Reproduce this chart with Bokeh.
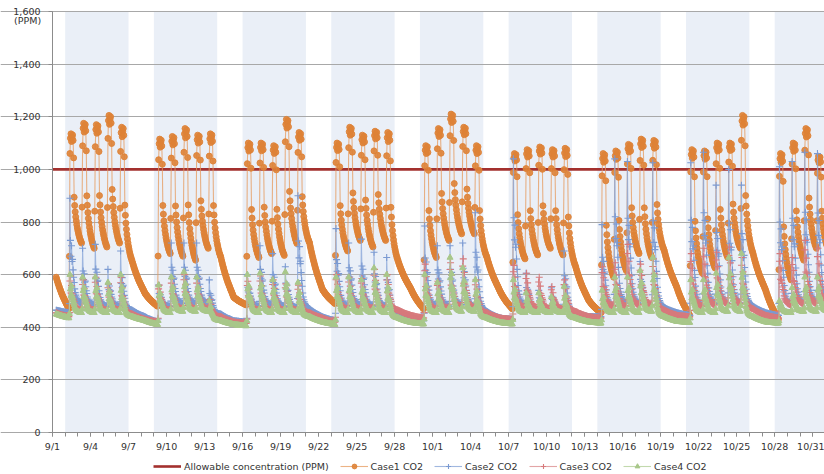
import pandas as pd
from bokeh.plotting import figure
from bokeh.models import (Range1d, FixedTicker, NumeralTickFormatter, BoxAnnotation,
                          Legend, LegendItem, Label)
from bokeh.embed import file_html
from bokeh.resources import INLINE

# ---------------- data ----------------
START = "2013-09-01"
N_DAYS = 61
TICK_LABELS = ["9/1", "9/4", "9/7", "9/10", "9/13", "9/16", "9/19", "9/22", "9/25", "9/28",
               "10/1", "10/4", "10/7", "10/10", "10/13", "10/16", "10/19", "10/22", "10/25",
               "10/28", "10/31"]
ALLOWABLE = 1000

# value at 07:00 of every day (9/1 ... 11/1)
CASE1_MORNING = [590,
                 470, 720, 700, 705, 720, 650, 530,
                 480, 680, 670, 655, 700, 665, 515,
                 485, 665, 680, 673, 718, 720, 545,
                 490, 690, 730, 705, 730, 650, 545,
                 470, 665, 730, 755, 755, 665, 540,
                 470, 660, 675, 700, 675, 630, 505,
                 455, 590, 615, 680, 665, 690, 550,
                 445, 605, 625, 665, 700, 680, 540,
                 430, 580, 655, 700, 690]
CASE2_MORNING = [465,
                 455, 490, 485, 480, 480, 465, 440,
                 420, 480, 490, 490, 490, 450, 425,
                 420, 480, 485, 480, 475, 470, 440,
                 425, 480, 485, 480, 480, 455, 435,
                 425, 480, 480, 485, 480, 460, 435,
                 430, 480, 470, 470, 470, 455, 440,
                 440, 480, 490, 490, 480, 475, 455,
                 445, 480, 490, 490, 490, 480, 455,
                 445, 485, 490, 495, 495]
CASE3_MORNING = [455,
                 440, 465, 465, 465, 465, 450, 430,
                 420, 465, 470, 470, 470, 440, 420,
                 415, 465, 465, 465, 465, 455, 435,
                 420, 470, 470, 470, 470, 465, 445,
                 435, 470, 470, 475, 475, 455, 435,
                 430, 475, 475, 470, 470, 460, 440,
                 435, 480, 480, 485, 485, 465, 445,
                 440, 480, 485, 490, 490, 470, 445,
                 435, 485, 490, 490, 490]
CASE4_MORNING = [450,
                 435, 455, 455, 455, 455, 440, 425,
                 410, 455, 460, 460, 460, 425, 410,
                 405, 455, 455, 455, 455, 440, 420,
                 410, 455, 455, 455, 455, 435, 418,
                 412, 455, 455, 460, 460, 435, 418,
                 412, 455, 455, 455, 455, 435, 420,
                 415, 455, 455, 455, 460, 440, 422,
                 418, 455, 455, 460, 460, 440, 420,
                 415, 455, 460, 460, 460]

# daily maximum of every working day
CASE1_PEAK = [1135, 1175, 1170, 1205, 1160,
              1115, 1125, 1155, 1130, 1135,
              1100, 1100, 1090, 1190, 1140,
              1100, 1160, 1130, 1145, 1140,
              1090, 1155, 1210, 1160, 1090,
              1060, 1075, 1085, 1075, 1080,
              1060, 1070, 1095, 1115, 1110,
              1075, 1070, 1100, 1100, 1205,
              1060, 1100, 1155, 1050]
CASE2_PEAK = [890, 700, 715, 620, 690,
              560, 720, 720, 720, 580,
              600, 710, 680, 630, 900,
              775, 720, 735, 685, 665,
              785, 710, 710, 720, 835,
              1040, 605, 540, 550, 690,
              790, 1040, 1030, 650, 1025,
              1025, 1065, 940, 1000, 940,
              1010, 1030, 1065, 1060]
CASE3_PEAK = [595, 580, 590, 565, 590,
              560, 585, 600, 585, 505,
              575, 595, 580, 565, 560,
              600, 590, 585, 620, 600,
              640, 575, 645, 660, 580,
              635, 605, 590, 555, 580,
              630, 645, 715, 640, 660,
              680, 700, 685, 705, 665,
              680, 665, 730, 700]
CASE4_PEAK = [600, 590, 590, 570, 600,
              560, 590, 610, 590, 500,
              600, 605, 580, 610, 570,
              590, 590, 580, 625, 600,
              600, 570, 665, 625, 580,
              580, 530, 530, 515, 555,
              540, 590, 590, 615, 665,
              580, 580, 605, 665, 680,
              500, 550, 590, 590]

# estimated hourly shapes (fractions) of a working day 08:00-17:00
CASE1_OCC = [0.3, 0.82, 0.96, 1.0, 0.93, 0.97, 0.99, 0.94, 0.78, 0.42]
CASE2_OCC = [0.08, 1.0, 0.6, 0.45, 0.55, 0.4, 0.42, 0.32, 0.25, 0.2]
CASE3_OCC = [0.1, 0.85, 1.0, 0.5, 0.72, 0.48, 0.42, 0.35, 0.3, 0.25]
CASE4_OCC = [0.1, 1.0, 0.62, 0.45, 0.7, 0.45, 0.4, 0.33, 0.28, 0.22]
# night decay 18:00 -> 07:00 (fraction of the evening excess left)
CASE1_NIGHT = [0.82, 0.68, 0.57, 0.48, 0.40, 0.33, 0.27, 0.22, 0.17, 0.13, 0.09, 0.06, 0.03, 0.0]
OTHER_NIGHT = [0.7, 0.52, 0.4, 0.31, 0.24, 0.19, 0.15, 0.11, 0.08, 0.06, 0.04, 0.025, 0.01, 0.0]
# unoccupied day 08:00 -> next 07:00
WEEKEND = [0.94, 0.885, 0.83, 0.78, 0.73, 0.68, 0.635, 0.59, 0.545, 0.5, 0.46, 0.42,
           0.38, 0.345, 0.31, 0.275, 0.24, 0.205, 0.17, 0.14, 0.105, 0.07, 0.035, 0.0]

dates = pd.date_range(START, periods=N_DAYS + 1, freq="D")
workday = [dt.dayofweek < 5 for dt in dates]


def build(morning, peaks, occ, night):
    xs, ys = [], []
    k = 0
    for d in range(N_DAYS):
        m, mn = morning[d], morning[d + 1]
        xs.append(d + 7 / 24)
        ys.append(m)
        if workday[d]:
            pk = peaks[k]
            k += 1
            vals = [m + (pk - m) * occ[0]] + [mn + (pk - mn) * f for f in occ[1:]]
            v17 = vals[-1]
            vals += [mn + (v17 - mn) * g for g in night[:-1]]
        else:
            vals = [mn + (m - mn) * g for g in WEEKEND[:-1]]
        for i, v in enumerate(vals):
            xs.append(d + (8 + i) / 24)
            ys.append(v)
    return xs, ys


x1, y1 = build(CASE1_MORNING, CASE1_PEAK, CASE1_OCC, CASE1_NIGHT)
x2, y2 = build(CASE2_MORNING, CASE2_PEAK, CASE2_OCC, OTHER_NIGHT)
x3, y3 = build(CASE3_MORNING, CASE3_PEAK, CASE3_OCC, OTHER_NIGHT)
x4, y4 = build(CASE4_MORNING, CASE4_PEAK, CASE4_OCC, OTHER_NIGHT)

# ---------------- figure ----------------
FONT = "DejaVu Sans"
Y_TOP = 1600
X_END = 60.93
p = figure(width=824, height=474, x_range=Range1d(-4.105, X_END),
           y_range=Range1d(-159.6, 1641.8),
           output_backend="svg", toolbar_location=None,
           min_border_left=0, min_border_right=0, min_border_top=0, min_border_bottom=0)
p.outline_line_color = None
p.background_fill_color = "white"

for d in range(N_DAYS):
    if dates[d].dayofweek == 0:
        band = BoxAnnotation(left=d, right=d + 5, bottom=0, top=Y_TOP, fill_color="#eaeff7",
                             fill_alpha=1.0, line_color=None, level="image")
        p.add_layout(band)

p.xgrid.visible = False
p.ygrid.grid_line_color = "#a8a8a8"
p.ygrid.grid_line_width = 1
p.ygrid.bounds = (0, X_END)

major = [3 * i for i in range(len(TICK_LABELS))]
p.xaxis.ticker = FixedTicker(ticks=major, minor_ticks=list(range(N_DAYS + 1)))
p.xaxis.major_label_overrides = {t: lab for t, lab in zip(major, TICK_LABELS)}
p.xaxis.fixed_location = 0
p.xaxis.bounds = (0, X_END)
p.yaxis.ticker = FixedTicker(ticks=list(range(0, Y_TOP + 1, 200)), minor_ticks=[])
p.yaxis.formatter = NumeralTickFormatter(format="0,0")
p.yaxis.fixed_location = 0
p.yaxis.bounds = (0, Y_TOP)

for ax in (p.xaxis[0], p.yaxis[0]):
    ax.axis_line_color = "#8c8c8c"
    ax.major_tick_line_color = "#8c8c8c"
    ax.minor_tick_line_color = "#8c8c8c"
    ax.major_tick_out = 4
    ax.major_tick_in = 0
    ax.minor_tick_out = 4
    ax.minor_tick_in = 0
    ax.major_label_text_font = FONT
    ax.major_label_text_font_size = "9.5px"
    ax.major_label_text_color = "#333333"
p.xaxis.major_label_standoff = 4
p.yaxis.major_label_standoff = 8

p.add_layout(Label(x=-1.97, y=1566, text="(PPM)", text_align="center", text_baseline="middle",
                   text_font=FONT, text_font_size="9.5px", text_color="#333333"))

allow = p.line([0, N_DAYS], [ALLOWABLE, ALLOWABLE], line_color="#a3302e", line_width=2.6)

l1 = p.line(x1, y1, line_color="#e59a5c", line_width=1.1, line_alpha=0.75)
s1 = p.scatter(x1, y1, marker="circle", size=6, fill_color="#de8236", line_color="#de8236",
               fill_alpha=0.9, line_alpha=0.9)
l2 = p.line(x2, y2, line_color="#8aa6d8", line_width=1.1, line_alpha=0.8)
s2 = p.scatter(x2, y2, marker="cross", size=7, line_color="#7b9ad2", line_width=1.1)
l3 = p.line(x3, y3, line_color="#dc8f90", line_width=1.1, line_alpha=0.8)
s3 = p.scatter(x3, y3, marker="cross", size=7, line_color="#d77a7c", line_width=1.1)
l4 = p.line(x4, y4, line_color="#b3cf98", line_width=1.1, line_alpha=0.8)
s4 = p.scatter(x4, y4, marker="triangle", size=6, fill_color="#a8c78a", line_color="#a8c78a")

legend = Legend(items=[
    LegendItem(label="Allowable concentration (PPM)", renderers=[allow]),
    LegendItem(label="Case1 CO2", renderers=[l1, s1]),
    LegendItem(label="Case2 CO2", renderers=[l2, s2]),
    LegendItem(label="Case3 CO2", renderers=[l3, s3]),
    LegendItem(label="Case4 CO2", renderers=[l4, s4]),
], orientation="horizontal", location=(153, 2))
legend.border_line_color = None
legend.background_fill_alpha = 0
legend.label_text_font = FONT
legend.label_text_font_size = "9.5px"
legend.label_text_color = "#333333"
legend.glyph_width = 28
legend.glyph_height = 12
legend.label_height = 12
legend.label_standoff = 3
legend.spacing = 11
legend.padding = 0
legend.margin = 0
p.add_layout(legend)

open("out.html", "w").write(file_html(p, INLINE))
